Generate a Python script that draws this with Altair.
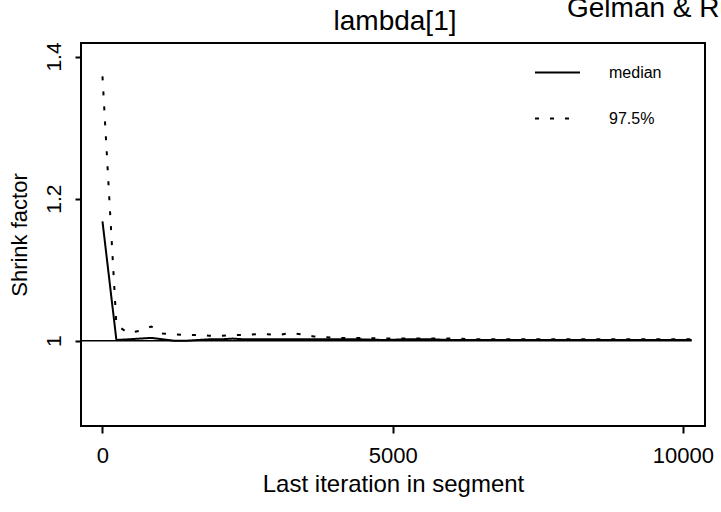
import altair as alt
import pandas as pd

# ---- data ----
iterations = [0, 240, 440, 640, 840, 1040, 1240, 1440, 1640, 1840, 2040, 2240,
              2440, 2640, 2840, 3040, 3240, 3440, 3640, 3840, 4040, 4440, 4840,
              5240, 5640, 6040, 6440, 6840, 7240, 7640, 8040, 8440, 8840, 9240,
              9640, 10150]
median = [1.168, 1.001, 1.002, 1.003, 1.004, 1.002, 1.000, 1.000, 1.001, 1.002,
          1.002, 1.003, 1.002, 1.002, 1.002, 1.002, 1.002, 1.002, 1.002, 1.002,
          1.002, 1.002, 1.001, 1.002, 1.002, 1.001, 1.001, 1.001, 1.001, 1.001,
          1.001, 1.001, 1.001, 1.001, 1.001, 1.001]
upper = [1.372, 1.022, 1.011, 1.014, 1.020, 1.010, 1.009, 1.008, 1.008, 1.007,
         1.007, 1.008, 1.008, 1.009, 1.009, 1.008, 1.011, 1.009, 1.006, 1.005,
         1.004, 1.004, 1.003, 1.003, 1.003, 1.003, 1.002, 1.002, 1.002, 1.002,
         1.002, 1.002, 1.002, 1.002, 1.002, 1.002]
series_names = ["median", "97.5%"]
x_ticks = [0, 5000, 10000]
y_ticks = [1.0, 1.2, 1.4]
ref_level = [1.0]
ref_span = [-370, 10150]
plot_title = "lambda[1]"
page_title = "Gelman & Rubin"

n = len(iterations)
df = pd.DataFrame({
    "iter": iterations + iterations,
    "value": median + upper,
    "series": [series_names[0]] * n + [series_names[1]] * n,
})
ref_df = pd.DataFrame({"iter": [ref_span[0]], "iter2": [ref_span[1]], "value": ref_level})

FONT = "Liberation Sans"
x_scale = alt.Scale(domain=[-370, 10380], nice=False, zero=False)
y_scale = alt.Scale(domain=[0.880, 1.419], nice=False, zero=False)

x_axis = alt.Axis(values=x_ticks, format="d", title="Last iteration in segment",
                  grid=False, domain=False, tickSize=7, tickWidth=2,
                  tickColor="black", labelFontSize=22, labelFont=FONT,
                  labelColor="black", labelPadding=12, titleFontSize=24,
                  titleFont=FONT, titleFontWeight="normal", titleColor="black",
                  titlePadding=6, labelFlush=False, labelOverlap=False)
y_axis = alt.Axis(values=y_ticks, title="Shrink factor", grid=False, domain=False,
                  tickSize=6, tickWidth=2, tickColor="black",
                  labelExpr="datum.value == 1 ? '1' : format(datum.value, '.1f')",
                  labelAngle=270, labelAlign="center", labelBaseline="bottom",
                  labelFontSize=21, labelFont=FONT, labelColor="black",
                  labelPadding=11, titleFontSize=22, titleFont=FONT,
                  titleFontWeight="normal", titleColor="black", titlePadding=12,
                  labelFlush=False, labelOverlap=False)

lines = alt.Chart(df).mark_line(color="black", strokeWidth=2).encode(
    x=alt.X("iter:Q", scale=x_scale, axis=x_axis),
    y=alt.Y("value:Q", scale=y_scale, axis=y_axis),
    strokeDash=alt.StrokeDash(
        "series:N",
        scale=alt.Scale(domain=series_names, range=[[1, 0], [4, 11]]),
        legend=alt.Legend(title=None, orient="none", legendX=453, legendY=6,
                          symbolType="stroke", symbolSize=2025,
                          symbolStrokeWidth=2, symbolStrokeColor="black",
                          labelFontSize=16, labelFont=FONT, labelColor="black",
                          labelOffset=28, rowPadding=14),
    ),
)

rule = alt.Chart(ref_df).mark_rule(color="black", strokeWidth=1.5).encode(
    x=alt.X("iter:Q", scale=x_scale, axis=x_axis),
    x2="iter2:Q",
    y=alt.Y("value:Q", scale=y_scale, axis=y_axis),
)

title_text = alt.Chart(pd.DataFrame({"t": [plot_title]})).mark_text(
    font=FONT, fontSize=28, align="center", baseline="alphabetic", color="black"
).encode(text="t:N", x=alt.value(314), y=alt.value(-13))

page_text = alt.Chart(pd.DataFrame({"t": [page_title]})).mark_text(
    font=FONT, fontSize=28, align="left", baseline="alphabetic", color="black"
).encode(text="t:N", x=alt.value(486), y=alt.value(-26))

chart = alt.layer(rule, lines, title_text, page_text).properties(
    width=624, height=383,
    autosize=alt.AutoSizeParams(type="none"),
    padding={"left": 81, "top": 43, "right": 16, "bottom": 86},
).configure(background="white").configure_view(stroke="black", strokeWidth=2)

chart.save("out.html", embed_options={"renderer": "svg", "actions": False})
